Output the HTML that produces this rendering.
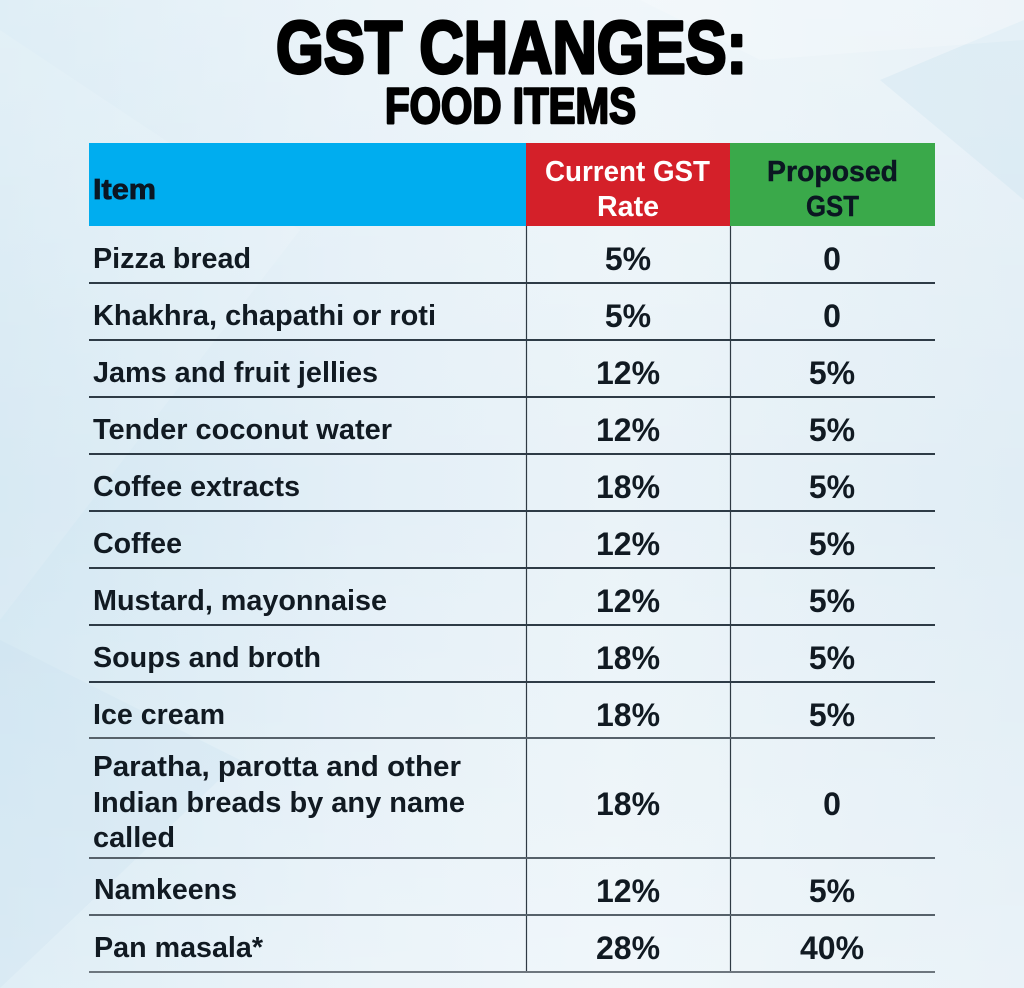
<!DOCTYPE html>
<html>
<head>
<meta charset="utf-8">
<style>
  html,body{margin:0;padding:0;width:1024px;height:988px;overflow:hidden;background:#e4eff6;}
  svg{display:block;}
  text{font-family:"Liberation Sans",Arial,sans-serif;}
</style>
</head>
<body>
<svg width="1024" height="988" viewBox="0 0 1024 988" xmlns="http://www.w3.org/2000/svg">
  <defs>
    <linearGradient id="bg" x1="0" y1="0" x2="1" y2="0">
      <stop offset="0" stop-color="#d2e7f2"/>
      <stop offset="0.35" stop-color="#e3eff7"/>
      <stop offset="0.6" stop-color="#eaf3f8"/>
      <stop offset="1" stop-color="#e0edf5"/>
    </linearGradient>
    <linearGradient id="bgv" x1="0" y1="0" x2="0" y2="1">
      <stop offset="0" stop-color="#ffffff" stop-opacity="0.3"/>
      <stop offset="0.5" stop-color="#ffffff" stop-opacity="0"/>
      <stop offset="1" stop-color="#ffffff" stop-opacity="0.3"/>
    </linearGradient>
  </defs>
  <rect x="0" y="0" width="1024" height="988" fill="url(#bg)"/>
  <rect x="0" y="0" width="1024" height="988" fill="url(#bgv)"/>
  <!-- soft facets -->
  <polygon points="0,30 300,230 0,620" fill="#ffffff" opacity="0.12"/>
  <polygon points="0,640 240,760 0,988" fill="#c8e1ef" opacity="0.25"/>
  <polygon points="880,80 1024,20 1024,200" fill="#c8e0f0" opacity="0.3"/>
  <polygon points="640,0 1024,0 1024,40 760,60" fill="#ffffff" opacity="0.2"/>

  <!-- Title -->
  <text x="276" y="73" font-size="74" font-weight="bold" fill="#000" stroke="#000" stroke-width="3.2" stroke-linejoin="round" textLength="471" lengthAdjust="spacingAndGlyphs">GST CHANGES:</text>
  <text x="385" y="123" font-size="50" font-weight="bold" fill="#000" stroke="#000" stroke-width="2.4" stroke-linejoin="round" textLength="251" lengthAdjust="spacingAndGlyphs">FOOD ITEMS</text>

  <!-- Header -->
  <rect x="89" y="143" width="437" height="83" fill="#00adef"/>
  <rect x="526" y="143" width="204" height="83" fill="#d42029"/>
  <rect x="730" y="143" width="205" height="83" fill="#3aa94a"/>
  <text x="93" y="199" font-size="29" font-weight="bold" fill="#0b1622" stroke="#0b1622" stroke-width="0.8" textLength="63" lengthAdjust="spacingAndGlyphs">Item</text>
  <text x="545" y="181" font-size="29" font-weight="bold" fill="#ffffff" textLength="165" lengthAdjust="spacingAndGlyphs">Current GST</text>
  <text x="597" y="216" font-size="29" font-weight="bold" fill="#ffffff" textLength="62" lengthAdjust="spacingAndGlyphs">Rate</text>
  <text x="767" y="181" font-size="29" font-weight="bold" fill="#0b1622" stroke="#0b1622" stroke-width="0.4" textLength="131" lengthAdjust="spacingAndGlyphs">Proposed</text>
  <text x="806" y="216" font-size="29" font-weight="bold" fill="#0b1622" stroke="#0b1622" stroke-width="0.4" textLength="53" lengthAdjust="spacingAndGlyphs">GST</text>

  <!-- Vertical lines -->
  <line x1="526.5" y1="226" x2="526.5" y2="972" stroke="#2f3a44" stroke-width="1.2"/>
  <line x1="730.5" y1="226" x2="730.5" y2="972" stroke="#2f3a44" stroke-width="1.2"/>

  <!-- Horizontal lines -->
  <g stroke="#2e3b46" stroke-width="2">
    <line x1="89" y1="283" x2="935" y2="283"/>
    <line x1="89" y1="340" x2="935" y2="340"/>
    <line x1="89" y1="397" x2="935" y2="397"/>
    <line x1="89" y1="454" x2="935" y2="454"/>
    <line x1="89" y1="511" x2="935" y2="511"/>
    <line x1="89" y1="568" x2="935" y2="568"/>
    <line x1="89" y1="625" x2="935" y2="625"/>
    <line x1="89" y1="682" x2="935" y2="682"/>
    <line x1="89" y1="738" x2="935" y2="738" stroke="#56616a"/>
    <line x1="89" y1="858" x2="935" y2="858" stroke="#56616a"/>
    <line x1="89" y1="915" x2="935" y2="915" stroke="#56616a"/>
    <line x1="89" y1="972" x2="935" y2="972" stroke="#6d767e"/>
  </g>

  <!-- Row labels -->
  <g font-size="29" font-weight="bold" fill="#111a22">
    <text x="93" y="268" textLength="158" lengthAdjust="spacingAndGlyphs">Pizza bread</text>
    <text x="93" y="325" textLength="343" lengthAdjust="spacingAndGlyphs">Khakhra, chapathi or roti</text>
    <text x="93" y="382" textLength="285" lengthAdjust="spacingAndGlyphs">Jams and fruit jellies</text>
    <text x="93" y="439" textLength="299" lengthAdjust="spacingAndGlyphs">Tender coconut water</text>
    <text x="93" y="496" textLength="207" lengthAdjust="spacingAndGlyphs">Coffee extracts</text>
    <text x="93" y="553" textLength="89" lengthAdjust="spacingAndGlyphs">Coffee</text>
    <text x="93" y="610" textLength="294" lengthAdjust="spacingAndGlyphs">Mustard, mayonnaise</text>
    <text x="93" y="667" textLength="228" lengthAdjust="spacingAndGlyphs">Soups and broth</text>
    <text x="93" y="724" textLength="132" lengthAdjust="spacingAndGlyphs">Ice cream</text>
    <text x="93" y="776" textLength="368" lengthAdjust="spacingAndGlyphs">Paratha, parotta and other</text>
    <text x="93" y="812" textLength="372" lengthAdjust="spacingAndGlyphs">Indian breads by any name</text>
    <text x="93" y="847" textLength="82" lengthAdjust="spacingAndGlyphs">called</text>
    <text x="94" y="899" textLength="143" lengthAdjust="spacingAndGlyphs">Namkeens</text>
    <text x="94" y="957" textLength="169" lengthAdjust="spacingAndGlyphs">Pan masala*</text>
  </g>

  <!-- Current GST values -->
  <g font-size="32" font-weight="bold" fill="#111a22" text-anchor="middle">
    <text x="628" y="270">5%</text>
    <text x="628" y="327">5%</text>
    <text x="628" y="384">12%</text>
    <text x="628" y="441">12%</text>
    <text x="628" y="498">18%</text>
    <text x="628" y="555">12%</text>
    <text x="628" y="612">12%</text>
    <text x="628" y="669">18%</text>
    <text x="628" y="726">18%</text>
    <text x="628" y="815">18%</text>
    <text x="628" y="902">12%</text>
    <text x="628" y="959">28%</text>
  </g>

  <!-- Proposed GST values -->
  <g font-size="32" font-weight="bold" fill="#111a22" text-anchor="middle">
    <text x="832" y="270">0</text>
    <text x="832" y="327">0</text>
    <text x="832" y="384">5%</text>
    <text x="832" y="441">5%</text>
    <text x="832" y="498">5%</text>
    <text x="832" y="555">5%</text>
    <text x="832" y="612">5%</text>
    <text x="832" y="669">5%</text>
    <text x="832" y="726">5%</text>
    <text x="832" y="815">0</text>
    <text x="832" y="902">5%</text>
    <text x="832" y="959">40%</text>
  </g>
</svg>
</body>
</html>
